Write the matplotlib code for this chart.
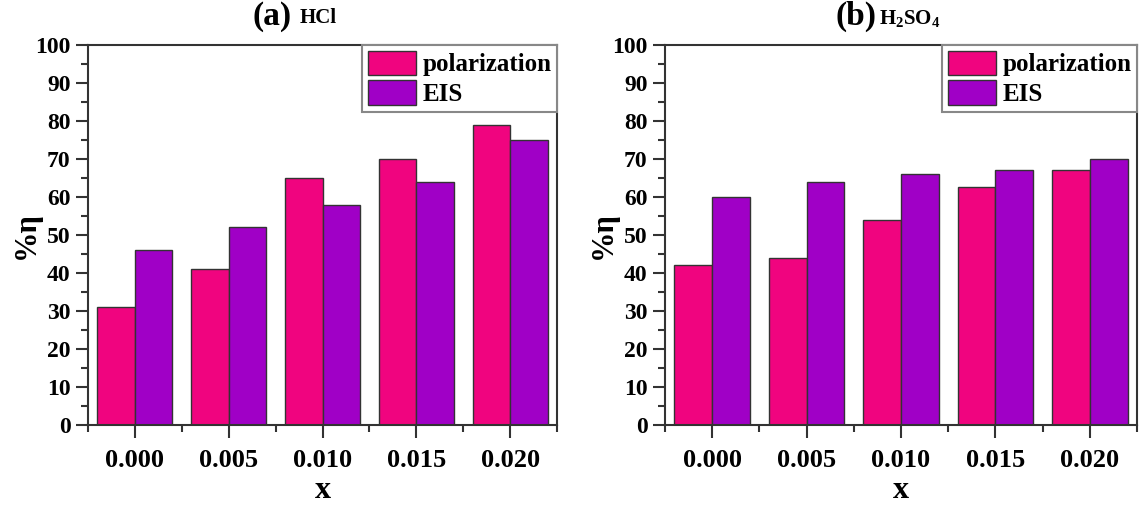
import numpy as np
import matplotlib.pyplot as plt
from matplotlib.ticker import MultipleLocator, FixedLocator

plt.rcParams["font.family"] = ["Liberation Serif", "DejaVu Serif"]
plt.rcParams["font.weight"] = "bold"
plt.rcParams["mathtext.fontset"] = "custom"
plt.rcParams["mathtext.rm"] = "Liberation Serif:bold"
plt.rcParams["mathtext.it"] = "Liberation Serif:bold"
plt.rcParams["mathtext.bf"] = "Liberation Serif:bold"

categories = ["0.000", "0.005", "0.010", "0.015", "0.020"]
hcl_polarization = [31, 41, 65, 70, 79]
hcl_eis = [46, 52, 58, 64, 75]
h2so4_polarization = [42, 44, 54, 62.5, 67]
h2so4_eis = [60, 64, 66, 67, 70]

pink = "#F0047F"
purple = "#A000C6"
edge = "#333333"

fig = plt.figure(figsize=[11.39, 5.05], dpi=100)
ax_a = fig.add_axes([88 / 1139, 80 / 505, 469 / 1139, 380 / 505])
ax_b = fig.add_axes([665 / 1139, 80 / 505, 472 / 1139, 380 / 505])


def draw_panel(ax, pol, eis, tag, name, tag_x, name_x):
    x = np.arange(len(categories))
    w = 0.4
    ax.bar(x - w / 2, pol, w, color=pink, edgecolor=edge, linewidth=1, label="polarization")
    ax.bar(x + w / 2, eis, w, color=purple, edgecolor=edge, linewidth=1, label="EIS")
    ax.set_xlim(-0.5, len(categories) - 0.5)
    ax.set_ylim(0, 100)
    ax.xaxis.set_major_locator(FixedLocator(x))
    ax.xaxis.set_minor_locator(FixedLocator(np.arange(-0.5, len(categories), 1.0)))
    ax.set_xticklabels(categories)
    ax.yaxis.set_major_locator(MultipleLocator(10))
    ax.yaxis.set_minor_locator(MultipleLocator(5))
    ax.tick_params(which="major", direction="out", length=9, width=1.5, labelsize=17, color=edge)
    ax.tick_params(which="minor", direction="out", length=5, width=1.5, color=edge)
    ax.tick_params(axis="x", which="major", pad=8, labelsize=19)
    for s in ax.spines.values():
        s.set_linewidth(1.5)
        s.set_color(edge)
    ax.set_ylabel("%η", fontsize=22, fontweight="bold", labelpad=-4)
    ax.set_xlabel("x", fontsize=23, fontweight="bold", labelpad=3)
    ax.text(tag_x, 1.075, tag, transform=ax.transAxes, ha="right", va="center",
            fontsize=24, fontweight="bold")
    ax.text(name_x, 1.07, name, transform=ax.transAxes, ha="left", va="center",
            fontsize=15, fontweight="bold")
    leg = ax.legend(loc="upper right", borderaxespad=0, fancybox=False, fontsize=18,
                    handlelength=1.95, handleheight=1.15, handletextpad=0.25,
                    labelspacing=0.15, borderpad=0.22, framealpha=1)
    leg.get_frame().set_edgecolor("#888888")
    leg.get_frame().set_linewidth(1.5)


draw_panel(ax_a, hcl_polarization, hcl_eis, "(a)", "HCl", 0.435, 0.452)
draw_panel(ax_b, h2so4_polarization, h2so4_eis, "(b)", r"H$_2$SO$_4$", 0.449, 0.453)

fig.savefig("out.png", dpi=100)
